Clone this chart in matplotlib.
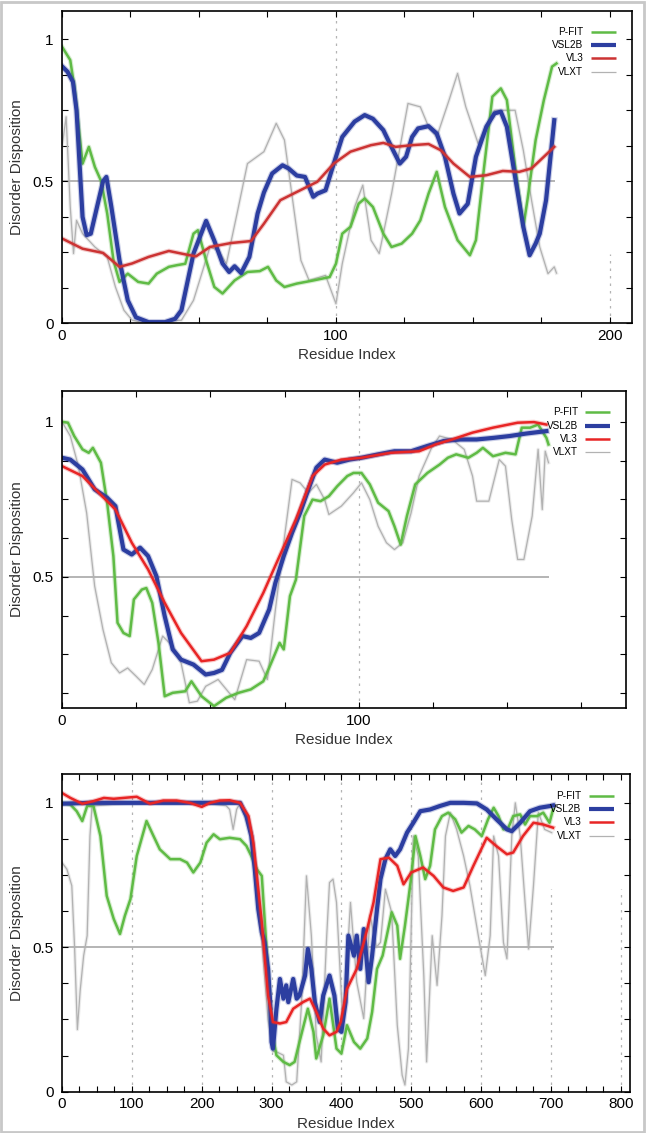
import matplotlib
matplotlib.use('Agg')
import matplotlib.pyplot as plt
import matplotlib.patheffects as pe
from matplotlib.patches import Rectangle
from matplotlib.ticker import MultipleLocator, FuncFormatter

plt.rcParams['font.family'] = ['Liberation Sans', 'DejaVu Sans']

# ---- panel 1 ----
p1_vsl2b_x = [0, 2, 4, 5.3, 7.5, 9, 10.5, 12.8, 15, 16.2,
              18, 21, 24, 27, 31.6, 37.6, 41.3, 43.6, 48, 52.6,
              55.6, 58.6, 61, 63, 65.4, 68.4, 71.4, 73.7, 76.7, 80.5,
              82.7, 85.7, 88.7, 91.7, 93.2, 96.2, 98.5, 102.3, 106.8, 110.5,
              113.5, 117.3, 120.3, 123.3, 125.6, 127.8, 130, 133.8, 136.8, 139.8,
              142.9, 145.1, 148.1, 151.1, 154.9, 157.9, 160.2, 162.4, 165.4, 168.4,
              170.7, 172.9, 174.4, 176.7, 179.7]
p1_vsl2b_y = [0.905, 0.886, 0.85, 0.75, 0.374, 0.31, 0.315, 0.41, 0.5, 0.515,
              0.41, 0.22, 0.08, 0.02, 0.003, 0.003, 0.015, 0.045, 0.245, 0.36,
              0.29, 0.21, 0.18, 0.2, 0.176, 0.233, 0.386, 0.46, 0.527, 0.556,
              0.545, 0.52, 0.515, 0.445, 0.456, 0.468, 0.54, 0.656, 0.71, 0.733,
              0.72, 0.68, 0.62, 0.562, 0.586, 0.656, 0.686, 0.694, 0.668, 0.586,
              0.456, 0.386, 0.42, 0.586, 0.692, 0.739, 0.745, 0.692, 0.515, 0.339,
              0.239, 0.28, 0.315, 0.433, 0.715]
p1_vl3_x = [0, 7.5, 15, 21, 25.6, 31.6, 39, 45, 48.9, 54, 61.7, 69, 73.7, 79.7, 85.7, 93.2,
            99.2, 105.3, 112.8, 117.3, 121.8, 127.8, 133.8, 138.3, 142.9, 148.9, 154.9, 160.9,
            166.9, 171.4, 175.9, 179.7]
p1_vl3_y = [0.298, 0.262, 0.247, 0.198, 0.21, 0.233, 0.254, 0.242, 0.235, 0.268, 0.282, 0.289,
            0.35, 0.433, 0.462, 0.498, 0.562, 0.604, 0.627, 0.635, 0.621, 0.627, 0.631, 0.609,
            0.562, 0.515, 0.521, 0.536, 0.533, 0.545, 0.586, 0.621]
p1_pfit_x = [0, 3, 4.5, 5.7, 7.5, 9.8, 12, 14.3, 16.5, 18.8,
             21, 24, 27.8, 31.6, 34.6, 39, 42, 45, 48, 49.6,
             52.6, 55.6, 58.6, 63, 67.7, 72.2, 75.2, 78.2, 81.2, 85.7,
             91.7, 97.7, 100, 102.3, 105.3, 108.3, 110.5, 113.5, 117.3, 120.3,
             124, 127.8, 130.8, 133.8, 136.8, 139.8, 144.4, 148.9, 151.1, 154.1,
             157.1, 160.2, 162.4, 165.4, 168.4, 169.9, 172.9, 175.9, 178.9, 180.5]
p1_pfit_y = [0.974, 0.927, 0.833, 0.727, 0.562, 0.621, 0.55, 0.5, 0.386, 0.22,
             0.145, 0.174, 0.145, 0.139, 0.174, 0.198, 0.204, 0.209, 0.315, 0.327,
             0.221, 0.127, 0.104, 0.15, 0.18, 0.183, 0.198, 0.15, 0.127, 0.139,
             0.15, 0.162, 0.209, 0.315, 0.339, 0.421, 0.439, 0.409, 0.315, 0.268,
             0.28, 0.315, 0.362, 0.456, 0.533, 0.409, 0.292, 0.239, 0.292, 0.551,
             0.798, 0.827, 0.786, 0.551, 0.339, 0.433, 0.645, 0.786, 0.904, 0.915]
p1_vlxt_x = [0, 1.5, 3, 4.2, 5.3, 7.5, 12, 16.5, 19.5, 22.6,
             25.6, 30, 43.6, 48, 54, 57, 60, 63.9, 67.7, 73.7,
             78.2, 81.2, 84.2, 87.2, 90.2, 96.2, 100, 102.3, 106.8, 109.8,
             112.8, 115.8, 120.3, 126.3, 130.8, 133.8, 136.8, 141.3, 144.4, 147.4,
             151.9, 157.9, 165.4, 168.4, 171.4, 174.4, 177.4, 179.7, 180.5]
p1_vlxt_y = [0.621, 0.727, 0.41, 0.245, 0.362, 0.315, 0.268, 0.233, 0.127, 0.045,
             0.01, 0.0, 0.01, 0.08, 0.268, 0.256, 0.209, 0.386, 0.562, 0.604,
             0.704, 0.645, 0.433, 0.221, 0.15, 0.168, 0.068, 0.209, 0.409, 0.486,
             0.292, 0.245, 0.456, 0.774, 0.762, 0.692, 0.656, 0.786, 0.88, 0.762,
             0.633, 0.75, 0.75, 0.609, 0.433, 0.268, 0.174, 0.198, 0.176]

# ---- panel 2 ----
p2_vsl2b_x = [0, 2.8, 6.9, 11, 15.2, 18, 20.7, 23.5, 26.3, 29,
              31.8, 34.6, 37.3, 40.1, 44.3, 48.4, 51.2, 53.9, 56.7, 60.8,
              63.6, 66.4, 69.8, 71.9, 74.7, 77.5, 80.2, 83, 85.7, 88.5,
              92.7, 96.8, 100.9, 106.5, 112, 117.6, 123.1, 128.6, 134.2, 139.7,
              145.2, 150.8, 156.3, 163.2]
p2_vsl2b_y = [0.884, 0.878, 0.846, 0.782, 0.755, 0.728, 0.588, 0.572, 0.594, 0.567,
              0.502, 0.373, 0.266, 0.233, 0.217, 0.185, 0.19, 0.2, 0.255, 0.309,
              0.303, 0.319, 0.395, 0.481, 0.567, 0.642, 0.706, 0.782, 0.852, 0.878,
              0.868, 0.878, 0.884, 0.895, 0.905, 0.905, 0.922, 0.938, 0.943, 0.943,
              0.948, 0.954, 0.962, 0.97]
p2_vl3_x = [0, 6.9, 12.4, 18, 23.5, 29, 34.6, 40.1, 47, 51.2,
            56.7, 62.2, 67.8, 73.3, 78.8, 84.4, 88.5, 94.1, 100.9, 110.7,
            120.3, 125.9, 131.4, 138.3, 145.2, 153.5, 159, 163.2]
p2_vl3_y = [0.857, 0.825, 0.771, 0.717, 0.61, 0.524, 0.416, 0.319, 0.228, 0.233,
            0.255, 0.341, 0.448, 0.567, 0.685, 0.825, 0.862, 0.878, 0.884, 0.9,
            0.905, 0.927, 0.943, 0.965, 0.981, 0.997, 0.999, 0.991]
p2_pfit_x = [0, 2, 4.1, 6.9, 9, 10.4, 13.1, 15.2, 17.3, 18.7,
             20.7, 22.8, 24.2, 26.9, 28.4, 30.4, 32.5, 34.6, 37.3, 41.5,
             43.6, 47, 51.2, 55.3, 59.5, 63.6, 67.8, 70.5, 73.3, 74.7,
             76.8, 78.8, 81.6, 84.4, 87.1, 89.9, 92.7, 96.1, 98.2, 100.9,
             103.7, 106.5, 110, 112, 114.1, 116.2, 119, 123.1, 127.2, 130,
             132.8, 136.9, 139.7, 141.8, 145.2, 149.4, 152.8, 154.9, 157.7, 160.4,
             163.2, 163.9]
p2_pfit_y = [1.0, 0.997, 0.954, 0.911, 0.9, 0.916, 0.868, 0.739, 0.567, 0.352,
             0.319, 0.309, 0.427, 0.459, 0.464, 0.416, 0.287, 0.115, 0.126, 0.131,
             0.163, 0.115, 0.083, 0.11, 0.126, 0.137, 0.163, 0.223, 0.287, 0.266,
             0.438, 0.491, 0.696, 0.749, 0.744, 0.76, 0.792, 0.825, 0.835, 0.835,
             0.798, 0.739, 0.712, 0.663, 0.604, 0.696, 0.798, 0.835, 0.862, 0.884,
             0.895, 0.884, 0.9, 0.916, 0.889, 0.9, 0.895, 0.981, 0.981, 0.991,
             0.948, 0.927]
p2_vlxt_x = [0, 2.8, 5.5, 8.3, 11, 13.8, 16.6, 19.4, 22.1, 24.9,
             27.7, 30.4, 33.9, 37.3, 40.1, 42.9, 45.6, 48.4, 52.6, 58.2,
             62.2, 66.4, 69.2, 71.9, 74.7, 77.5, 80.2, 83, 85.7, 88.5,
             89.9, 94.1, 98.2, 100.9, 103.7, 106.5, 109.3, 112, 114.8, 117.6,
             120.3, 124.5, 127.2, 131.4, 135.5, 138.3, 139.7, 143.8, 147.3, 149.4,
             151.5, 153.5, 155.6, 158.4, 160.4, 161.8, 162.8, 163.9]
p2_vlxt_y = [1.0, 0.954, 0.857, 0.706, 0.47, 0.33, 0.223, 0.19, 0.206, 0.18,
             0.153, 0.201, 0.309, 0.276, 0.223, 0.094, 0.099, 0.147, 0.169, 0.104,
             0.233, 0.228, 0.169, 0.395, 0.61, 0.814, 0.803, 0.771, 0.798, 0.749,
             0.701, 0.728, 0.771, 0.803, 0.749, 0.663, 0.61, 0.588, 0.61, 0.706,
             0.825, 0.916, 0.954, 0.943, 0.911, 0.825, 0.744, 0.744, 0.878, 0.857,
             0.685, 0.556, 0.556, 0.696, 0.911, 0.717, 0.905, 0.868]

# ---- panel 3 ----
p3_vsl2b_x = [0, 40, 255, 264, 271, 276, 281, 286, 290, 295,
              298, 300, 302, 307, 312, 317, 321, 324, 331, 336,
              340, 348, 352, 357, 362, 369, 374, 383, 390, 395,
              400, 406, 410, 418, 422, 427, 432, 439, 444, 451,
              456, 463, 470, 477, 484, 494, 503, 513, 527, 541,
              556, 575, 594, 608, 622, 637, 644, 656, 670, 684,
              699, 703]
p3_vsl2b_y = [0.997, 1.0, 1.0, 0.954, 0.885, 0.77, 0.632, 0.552, 0.517, 0.425,
              0.31, 0.172, 0.149, 0.287, 0.39, 0.322, 0.368, 0.31, 0.39, 0.322,
              0.333, 0.402, 0.494, 0.425, 0.31, 0.241, 0.333, 0.402, 0.333, 0.218,
              0.207, 0.31, 0.54, 0.471, 0.54, 0.425, 0.563, 0.379, 0.471, 0.632,
              0.736, 0.805, 0.839, 0.816, 0.839, 0.897, 0.931, 0.971, 0.977, 0.989,
              1.0, 1.0, 0.998, 0.977, 0.943, 0.908, 0.902, 0.931, 0.971, 0.983,
              0.989, 0.991]
p3_vl3_x = [0, 12, 29, 45, 60, 74, 88, 107, 126, 145,
            164, 183, 200, 212, 226, 240, 255, 267, 274, 281,
            286, 290, 295, 302, 312, 321, 331, 345, 355, 364,
            374, 383, 393, 399, 408, 422, 437, 446, 456, 468,
            480, 489, 500, 517, 532, 546, 560, 575, 589, 608,
            622, 637, 646, 660, 675, 689, 703]
p3_vl3_y = [1.034, 1.017, 0.997, 1.006, 1.017, 1.014, 1.017, 1.021, 0.997, 1.008,
            1.008, 1.0, 0.986, 1.0, 1.008, 1.009, 1.0, 0.954, 0.862, 0.701,
            0.586, 0.471, 0.333, 0.241, 0.236, 0.241, 0.287, 0.31, 0.322, 0.276,
            0.218, 0.195, 0.207, 0.241, 0.356, 0.425, 0.563, 0.655, 0.805, 0.81,
            0.782, 0.718, 0.759, 0.776, 0.747, 0.707, 0.695, 0.707, 0.782, 0.879,
            0.85, 0.822, 0.828, 0.885, 0.931, 0.925, 0.914]
p3_pfit_x = [0, 12, 21, 29, 36, 45, 55, 64, 74, 83,
             90, 98, 107, 121, 131, 140, 155, 169, 179, 188,
             198, 207, 217, 226, 240, 255, 264, 271, 279, 286,
             291, 295, 300, 307, 317, 326, 333, 340, 352, 360,
             364, 374, 383, 393, 400, 408, 418, 427, 437, 444,
             451, 459, 465, 472, 480, 484, 491, 499, 506, 513,
             520, 527, 534, 544, 553, 563, 572, 582, 591, 601,
             610, 618, 625, 632, 639, 646, 656, 663, 670, 680,
             689, 698, 703]
p3_pfit_y = [1.0, 0.994, 0.971, 0.937, 0.989, 0.989, 0.885, 0.678, 0.598, 0.546,
             0.609, 0.667, 0.816, 0.937, 0.885, 0.839, 0.805, 0.805, 0.793, 0.759,
             0.793, 0.862, 0.891, 0.874, 0.879, 0.874, 0.851, 0.816, 0.77, 0.747,
             0.563, 0.414, 0.218, 0.126, 0.103, 0.092, 0.103, 0.172, 0.287, 0.207,
             0.115, 0.195, 0.322, 0.149, 0.132, 0.23, 0.172, 0.149, 0.184, 0.276,
             0.425, 0.471, 0.54, 0.621, 0.575, 0.46, 0.575, 0.724, 0.885, 0.816,
             0.736, 0.782, 0.908, 0.954, 0.966, 0.943, 0.897, 0.92, 0.908, 0.885,
             0.943, 0.983, 0.954, 0.908, 0.914, 0.954, 0.96, 0.925, 0.954, 0.954,
             0.966, 0.931, 0.977]
p3_vlxt_x = [0, 7, 14, 18, 22, 26, 31, 36, 40, 43,
             100, 200, 235, 240, 245, 250, 255, 270, 285, 295,
             302, 307, 317, 321, 329, 336, 343, 350, 357, 364,
             371, 379, 383, 388, 393, 398, 402, 408, 413, 422,
             432, 441, 450, 456, 463, 472, 480, 487, 491, 496,
             503, 510, 518, 522, 530, 537, 544, 549, 556, 565,
             575, 584, 596, 606, 613, 618, 625, 632, 637, 644,
             649, 656, 663, 668, 675, 682, 691, 701]
p3_vlxt_y = [0.793, 0.77, 0.713, 0.5, 0.215, 0.35, 0.471, 0.54, 0.885, 0.989,
             1.0, 1.0, 0.99, 0.977, 0.908, 0.977, 1.0, 0.9, 0.55, 0.25,
             0.14, 0.138, 0.126, 0.034, 0.023, 0.034, 0.31, 0.747, 0.54, 0.195,
             0.103, 0.54, 0.724, 0.736, 0.655, 0.425, 0.241, 0.45, 0.655, 0.379,
             0.253, 0.609, 0.5, 0.517, 0.701, 0.62, 0.23, 0.057, 0.023, 0.149,
             0.885, 0.816, 0.402, 0.103, 0.54, 0.368, 0.609, 0.885, 0.966, 0.908,
             0.816, 0.713, 0.54, 0.402, 0.54, 0.885, 0.816, 0.517, 0.46, 0.885,
             1.0, 0.885, 0.655, 0.494, 0.713, 0.966, 0.908, 0.897]

names = ['P-FIT', 'VSL2B', 'VL3', 'VLXT']
GREEN = '#5fbb45'
BLUE = '#2c3ea0'
GRAY = '#b2b2b2'
widths = {'P-FIT': 1.8, 'VSL2B': 3.0, 'VL3': 1.8, 'VLXT': 0.9}

fig = plt.figure(figsize=(6.46, 11.33), dpi=100)
fig.patches.append(Rectangle((0.002, 0.001), 0.995, 0.997, transform=fig.transFigure,
                             fill=False, ec='#c8c8c8', lw=2))


def panel(rect, xlim, ylim, ymajor, grid_full, grid_short, short_top, line_end, data, red):
    ax = fig.add_axes(rect)
    colors = {'P-FIT': GREEN, 'VSL2B': BLUE, 'VL3': red, 'VLXT': GRAY}
    ax.set_xlim(*xlim)
    ax.set_ylim(*ylim)
    for g in grid_full:
        ax.vlines(g, ylim[0], ylim[1], colors='#b4b4b4', linestyles=(0, (2, 4)), lw=0.9, zorder=0.5)
    for g in grid_short:
        ax.vlines(g, ylim[0], short_top, colors='#b4b4b4', linestyles=(0, (2, 4)), lw=0.9, zorder=0.5)
    ax.hlines(0.5, 0, line_end, colors='#a8a8a8', lw=1.2, zorder=0.8)
    # gray first so the thick ones cover it, red last
    for nm in ['VLXT', 'P-FIT', 'VSL2B', 'VL3']:
        xs, ys = data[nm]
        c = colors[nm]
        lw = widths[nm]
        ax.plot(xs, ys, color=c, lw=lw, solid_joinstyle='round', zorder=2,
                path_effects=[pe.Stroke(linewidth=lw + 1.6, foreground=c, alpha=0.25), pe.Normal()])
    # key, right aligned text like gnuplot
    for i, nm in enumerate(names):
        yy = 0.932 - i * 0.042
        ax.text(0.915, yy, nm, transform=ax.transAxes, ha='right', va='center', fontsize=7.2)
        ax.plot([0.928, 0.972], [yy, yy], transform=ax.transAxes, color=colors[nm],
                lw=widths[nm], solid_capstyle='butt', zorder=3)
    ax.xaxis.set_major_locator(MultipleLocator(100))
    ax.xaxis.set_minor_locator(MultipleLocator(25))
    ax.set_yticks(ymajor)
    ax.yaxis.set_minor_locator(MultipleLocator(0.125))
    ax.yaxis.set_major_formatter(FuncFormatter(lambda v, p: '%g' % v))
    ax.tick_params(which='both', direction='in', top=True, right=True, length=4, width=0.8)
    ax.tick_params(axis='x', labelsize=11, pad=4)
    ax.tick_params(axis='y', labelsize=11, pad=6)
    for s in ax.spines.values():
        s.set_linewidth(1.2)
    ax.set_xlabel('Residue Index', fontsize=11, color='#333333')
    ax.set_ylabel('Disorder Disposition', fontsize=11, color='#333333', labelpad=6)
    return ax


panel([0.096, 0.7149, 0.882, 0.2754], (0, 208), (0, 1.1), [0, 0.5, 1], [100], [200], 0.245, 180,
      {'P-FIT': (p1_pfit_x, p1_pfit_y), 'VSL2B': (p1_vsl2b_x, p1_vsl2b_y),
       'VL3': (p1_vl3_x, p1_vl3_y), 'VLXT': (p1_vlxt_x, p1_vlxt_y)}, '#cc3333')
panel([0.096, 0.3751, 0.873, 0.2800], (0, 190), (0.077, 1.1), [0.5, 1], [100], [], 0, 164,
      {'P-FIT': (p2_pfit_x, p2_pfit_y), 'VSL2B': (p2_vsl2b_x, p2_vsl2b_y),
       'VL3': (p2_vl3_x, p2_vl3_y), 'VLXT': (p2_vlxt_x, p2_vlxt_y)}, '#e82525')
panel([0.096, 0.0365, 0.879, 0.2804], (0, 813), (0, 1.1), [0, 0.5, 1],
      [100, 200, 300, 400, 500, 600], [700, 800], 0.70, 704,
      {'P-FIT': (p3_pfit_x, p3_pfit_y), 'VSL2B': (p3_vsl2b_x, p3_vsl2b_y),
       'VL3': (p3_vl3_x, p3_vl3_y), 'VLXT': (p3_vlxt_x, p3_vlxt_y)}, '#e82525')

fig.savefig('out.png', dpi=100)
